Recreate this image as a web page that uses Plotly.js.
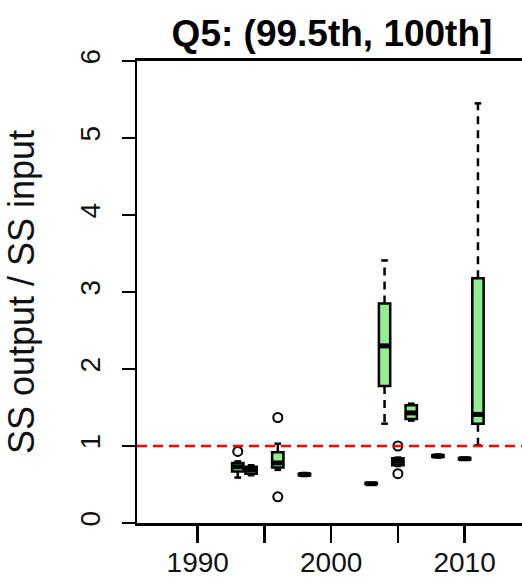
<!DOCTYPE html>
<html>
<head>
<meta charset="utf-8">
<script src="https://cdn.plot.ly/plotly-3.0.1.min.js"></script>
<style>
  html, body { margin: 0; padding: 0; background: #ffffff; overflow: hidden; }
  #chart { width: 522px; height: 582px; }
</style>
</head>
<body>
<div id="chart"></div>
<script>
// ---- data ----
var years        = [1993, 1994, 1996, 1998, 2003, 2004, 2005, 2006, 2008, 2010, 2011];
var lowerWhisker = [0.59, 0.62, 0.69, 0.61, 0.50, 1.29, 0.74, 1.33, 0.85, 0.82, 1.01];
var q1           = [0.67, 0.64, 0.72, 0.62, 0.505, 1.78, 0.75, 1.35, 0.86, 0.825, 1.29];
var medians      = [0.73, 0.69, 0.78, 0.63, 0.51, 2.30, 0.80, 1.43, 0.87, 0.835, 1.41];
var q3           = [0.78, 0.73, 0.92, 0.64, 0.52, 2.85, 0.84, 1.53, 0.88, 0.845, 3.18];
var upperWhisker = [0.80, 0.75, 1.03, 0.65, 0.52, 3.41, 0.85, 1.55, 0.89, 0.85, 5.45];

var outlierYears  = [1993, 1996, 1996, 2005, 2005];
var outlierValues = [0.93, 1.37, 0.34, 1.00, 0.64];

var xTickVals  = [1990, 1995, 2000, 2005, 2010];
var xTickText  = ["1990", "", "2000", "", "2010"];
var yTickVals  = [0, 1, 2, 3, 4, 5, 6];
var referenceLevel = 1;

var titleText = "Q5: (99.5th, 100th]";
var yTitle    = "SS output / SS input";

// ---- styling ----
var FONT = "Liberation Sans, Arial, Helvetica, sans-serif";
var BOXW = 0.85;
var CAPW = 0.25;

// whisker and cap segments built from the data arrays
var wx = [], wy = [], cx = [], cy = [], mx = [], my = [];
for (var i = 0; i < years.length; i++) {
  var x = years[i];
  if (upperWhisker[i] > q3[i]) { wx.push(x, x, null); wy.push(q3[i], upperWhisker[i], null); }
  if (lowerWhisker[i] < q1[i]) { wx.push(x, x, null); wy.push(q1[i], lowerWhisker[i], null); }
  cx.push(x - CAPW, x + CAPW, null); cy.push(upperWhisker[i], upperWhisker[i], null);
  cx.push(x - CAPW, x + CAPW, null); cy.push(lowerWhisker[i], lowerWhisker[i], null);
  mx.push(x - BOXW / 2, x + BOXW / 2, null); my.push(medians[i], medians[i], null);
}

var traces = [
  { type: "scatter", mode: "lines", x: wx, y: wy, hoverinfo: "skip",
    line: { color: "#000", width: 2.5, dash: "8px,6px" }, showlegend: false },
  { type: "scatter", mode: "lines", x: cx, y: cy, hoverinfo: "skip",
    line: { color: "#000", width: 2.5 }, showlegend: false },
  { type: "box", x: years, q1: q1, median: medians, q3: q3,
    lowerfence: q1, upperfence: q3, width: BOXW, whiskerwidth: 0,
    boxpoints: false, fillcolor: "#90EE90",
    line: { color: "#000", width: 2.5 }, showlegend: false },
  { type: "scatter", mode: "lines", x: mx, y: my, hoverinfo: "skip",
    line: { color: "#000", width: 5 }, showlegend: false },
  { type: "scatter", mode: "markers", x: outlierYears, y: outlierValues,
    marker: { symbol: "circle-open", size: 9, color: "#000", line: { width: 2, color: "#000" } },
    showlegend: false }
];

var layout = {
  width: 522, height: 582,
  margin: { l: 137, r: 0, t: 61, b: 59, pad: 0 },
  paper_bgcolor: "#fff", plot_bgcolor: "#fff",
  font: { family: FONT, color: "#111" },
  title: { text: "<b>" + titleText + "</b>", font: { size: 37, family: FONT, color: "#000" },
           x: 332 / 522, xanchor: "center", xref: "container",
           y: 1 - 33 / 582, yanchor: "middle", yref: "container" },
  xaxis: {
    range: [1985.45, 2014.3], tickvals: xTickVals, ticktext: xTickText,
    ticks: "outside", ticklen: 17, tickwidth: 2.5, tickcolor: "#000",
    showline: true, linewidth: 3, linecolor: "#000", mirror: true,
    showgrid: false, zeroline: false, tickfont: { size: 28, family: FONT, color: "#111" },
    ticklabelstandoff: -5
  },
  yaxis: {
    range: [0, 6], tickvals: yTickVals, ticks: "outside", ticklen: 13, tickwidth: 2.5,
    tickcolor: "#000", showline: true, linewidth: 2.5, linecolor: "#000",
    showgrid: false, zeroline: false, tickangle: -90,
    tickfont: { size: 28, family: FONT, color: "#111" }, ticklabelstandoff: 10,
    title: { text: yTitle, font: { size: 36, family: FONT, color: "#111" }, standoff: 30 },
    automargin: false
  },
  shapes: [{
    type: "line", xref: "paper", x0: 0, x1: 1, yref: "y", y0: referenceLevel, y1: referenceLevel,
    line: { color: "#FF0000", width: 2.5, dash: "10px,6px" }, layer: "above"
  }],
  showlegend: false
};

Plotly.newPlot("chart", traces, layout, { displayModeBar: false, staticPlot: true });
</script>
</body>
</html>
